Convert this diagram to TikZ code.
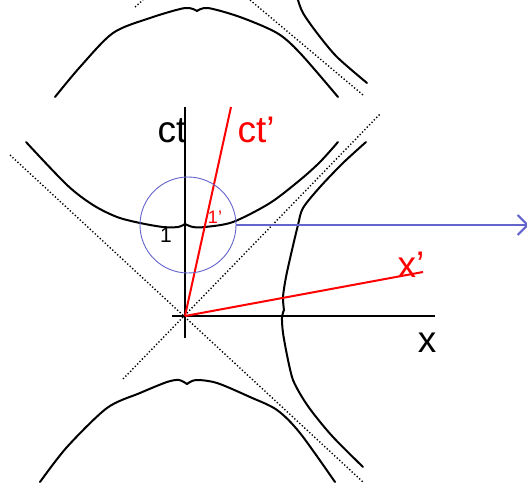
\documentclass[tikz,border=0pt]{standalone}
\usepackage{fontspec}
\setmainfont{Liberation Sans}
\usetikzlibrary{arrows.meta,positioning}
\definecolor{rayblue}{RGB}{100,100,205}

\begin{document}
\begin{tikzpicture}[x=1pt,y=-1pt,curve/.style={line width=2pt,line join=round,line cap=round},axis/.style={line width=2pt},cone/.style={line width=1.4pt,dash pattern=on 1.3pt off 2.1pt},prime/.style={red,line width=2pt},big/.style={font=\fontsize{37}{37}\selectfont,inner sep=0pt,anchor=base},small/.style={font=\fontsize{21}{21}\selectfont,inner sep=0pt,anchor=base}]
\useasboundingbox (0,0) rectangle (527,482);
% light cone
\draw[cone] (10,155) -- (363,482);
\draw[cone] (123,379) -- (381,113);
\draw[cone] (250,0) -- (363,95);
\draw[cone] (135,7) -- (143,0);
% hyperbolas
\draw[curve] plot[smooth] coordinates {(26,142) (67,185) (93,205) (117,217) (140,223) (163,227) (178,227) (185,224)};
\draw[curve] plot[smooth] coordinates {(185,224) (193,227) (205,227) (233,222) (270,203) (300,180) (320,162) (338,142)};
\draw[curve] plot[smooth] coordinates {(366,142) (343,163) (320,187) (303,208) (298,225) (292,250) (286,277) (283,297) (284,310)};
\draw[curve] plot[smooth] coordinates {(284,310) (282,317) (283,333) (288,360) (293,380) (302,397) (313,413) (333,437) (363,467)};
\draw[curve] plot[smooth] coordinates {(40,482) (67,447) (107,408) (140,393) (167,382) (179,380) (187,384)};
\draw[curve] plot[smooth] coordinates {(187,384) (196,380) (217,383) (250,397) (277,410) (300,433) (335,482)};
\draw[curve] plot[smooth] coordinates {(55,97) (80,67) (113,33) (150,18) (185,8) (197,11)};
\draw[curve] plot[smooth] coordinates {(197,11) (208,8) (240,17) (277,33) (300,53) (338,97)};
\draw[curve] plot[smooth] coordinates {(298,0) (303,13) (317,33) (337,57) (367,83)};
% axes
\coordinate (O) at (185,316);
\coordinate (tTop) at (185,107);
\coordinate (tBot) at (185,338);
\coordinate (xLeft) at (172,316);
\coordinate (xRight) at (435,316);
\draw[axis] (tBot) -- (tTop);
\draw[axis] (xLeft) -- (xRight);
\coordinate (ctPrime) at (231,107);
\coordinate (xPrime) at (423,272);
\draw[prime] (O) -- (ctPrime);
\draw[prime] (O) -- (xPrime);
% zoom marker
\node[draw=rayblue,circle,line width=0.9pt,minimum size=96pt,inner sep=0pt] (unit) at (188,225) {};
\coordinate (rayEnd) at (529,225);
\draw[rayblue,line width=2pt,-{Straight Barb[length=10pt,width=20pt,line width=2pt]}] (unit.east) -- (rayEnd);
% labels
\node[big] (ctLabel) at (172,142) {ct};
\node[big,red] (ctPrimeLabel) at (256,142) {ct’};
\node[big,red] (xPrimeLabel) at (411,277) {x’};
\node[big] (xLabel) at (427,352) {x};
\node[small] (oneLabel) at (166,242) {1};
\node[small,red,font=\fontsize{18}{18}\selectfont] (onePrimeLabel) at (215,223) {1’};
\end{tikzpicture}
\end{document}
